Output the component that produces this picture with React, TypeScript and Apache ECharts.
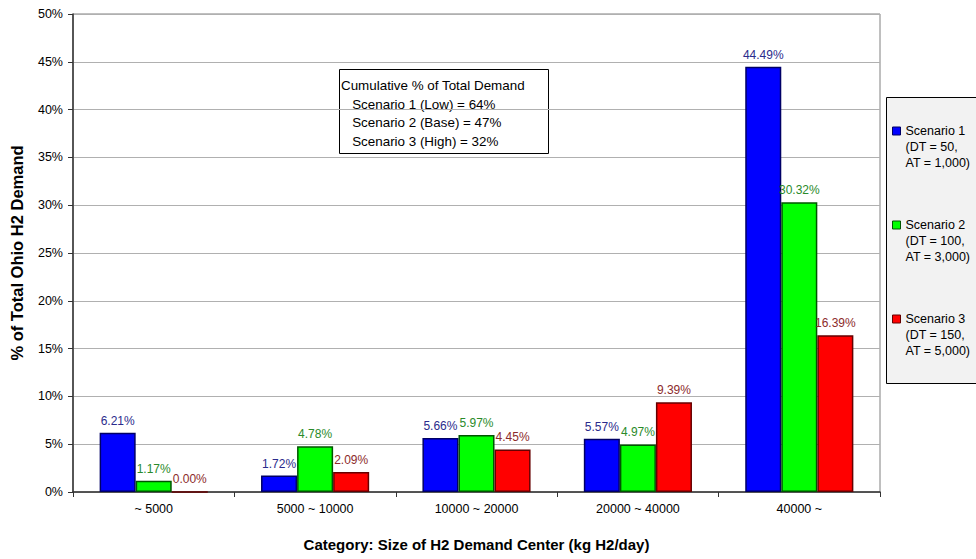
import React, { useEffect, useRef } from "react";
import * as echarts from "echarts";

const categories = ["~ 5000", "5000 ~ 10000", "10000 ~ 20000", "20000 ~ 40000", "40000 ~"];
const scenario1 = [6.21, 1.72, 5.66, 5.57, 44.49];
const scenario2 = [1.17, 4.78, 5.97, 4.97, 30.32];
const scenario3 = [0.0, 2.09, 4.45, 9.39, 16.39];
const seriesNames = [
  "Scenario 1\n(DT = 50,\nAT = 1,000)",
  "Scenario 2\n(DT = 100,\nAT = 3,000)",
  "Scenario 3\n(DT = 150,\nAT = 5,000)",
];
const noteLines = [
  "Cumulative % of Total Demand",
  "   Scenario 1 (Low) = 64%",
  "   Scenario 2 (Base) = 47%",
  "   Scenario 3 (High) = 32%",
];

const FONT = "Liberation Sans, Arial, sans-serif";

export default function App() {
  const ref = useRef<HTMLDivElement>(null);
  useEffect(() => {
    if (!ref.current) return;
    const chart = echarts.init(ref.current, undefined, { renderer: "svg" });
    const fills = ["#0000ff", "#00ff00", "#ff0000"];
    const borders = ["#000066", "#005500", "#660000"];
    const labelColors = ["#2b2b8c", "#2a8a2a", "#8c2b2b"];
    const data = [scenario1, scenario2, scenario3];
    chart.setOption({
      animation: false,
      backgroundColor: "#ffffff",
      textStyle: { fontFamily: FONT },
      grid: {
        left: 73,
        right: 96,
        top: 14,
        bottom: 67,
        outerBoundsMode: "none",
        containLabel: false,
        show: true,
        borderColor: "#808080",
        borderWidth: 1,
        backgroundColor: "#ffffff",
      },
      legend: {
        orient: "vertical",
        left: 892,
        top: 91,
        padding: 0,
        itemWidth: 8,
        itemHeight: 8,
        itemGap: 14,
        itemTextGap: 4,
        icon: "rect",
        selectedMode: false,
        data: seriesNames,
        formatter: (name: string) => "\n\n" + name,
        textStyle: {
          fontFamily: FONT,
          fontSize: 12.5,
          color: "#000",
          lineHeight: 16,
        },
        itemStyle: { borderWidth: 1 },
      },
      graphic: [
        {
          type: "rect",
          z: -1,
          zlevel: 0,
          shape: { x: 886.5, y: 97.5, width: 100, height: 286 },
          style: { fill: "#f2f2f2", stroke: "#000", lineWidth: 1 },
        },
        {
          type: "group",
          z: 100,
          children: [
            {
              type: "rect",
              shape: { x: 339.5, y: 69.5, width: 209, height: 84 },
              style: { fill: "#ffffff", stroke: "#000", lineWidth: 1 },
            },
            {
              type: "text",
              x: 341,
              y: 76,
              style: {
                text: noteLines.join("\n"),
                font: `13.4px ${FONT}`,
                lineHeight: 18.7,
                fill: "#000",
              },
            },
          ],
        },
      ],
      xAxis: {
        type: "category",
        data: categories,
        name: "Category: Size of H2 Demand Center (kg H2/day)",
        nameLocation: "middle",
        nameGap: 45,
        nameTextStyle: { fontFamily: FONT, fontSize: 15, fontWeight: "bold", color: "#000" },
        axisLine: { lineStyle: { color: "#333", width: 1.5 } },
        axisTick: { show: true, length: 5, lineStyle: { color: "#333" } },
        axisLabel: { fontFamily: FONT, fontSize: 12.5, color: "#000", margin: 10 },
      },
      yAxis: {
        type: "value",
        min: 0,
        max: 50,
        interval: 5,
        name: "% of Total Ohio H2 Demand",
        nameLocation: "middle",
        nameGap: 48,
        nameTextStyle: { fontFamily: FONT, fontSize: 16.5, fontWeight: "bold", color: "#000" },
        axisLine: { show: true, lineStyle: { color: "#333", width: 1.5 } },
        axisTick: { show: true, length: 5, lineStyle: { color: "#333" } },
        axisLabel: { fontFamily: FONT, fontSize: 12.5, color: "#000", margin: 10, formatter: "{value}%" },
        splitLine: { show: true, lineStyle: { color: "#b0b0b0", width: 1 } },
      },
      series: data.map((vals, i) => ({
        name: seriesNames[i],
        type: "bar",
        data: vals,
        barGap: "0%",
        barCategoryGap: "33%",
        itemStyle: { color: fills[i], borderColor: borders[i], borderWidth: 1.5 },
        label: {
          show: true,
          position: "top",
          distance: 6,
          formatter: (p: any) => `${Number(p.value).toFixed(2)}%`,
          fontFamily: FONT,
          fontSize: 12,
          color: labelColors[i],
        },
      })),
    });
    return () => chart.dispose();
  }, []);
  return <div ref={ref} style={{ position: "fixed", left: 0, top: 0, width: 976, height: 559 }} />;
}
